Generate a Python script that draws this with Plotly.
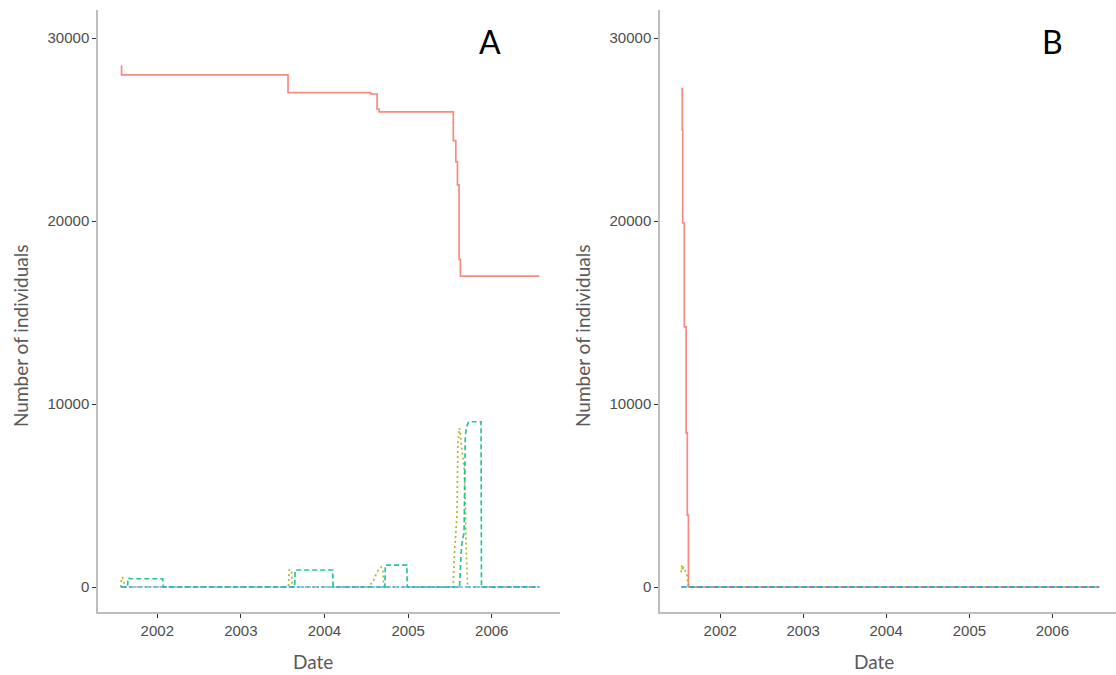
import plotly.graph_objects as go

# ---------------- data ----------------
# Panel A
a_start, a_end = "2001-07-26", "2006-07-28"

a_S_dates = ["2001-07-26", "2001-07-29", "2003-07-26", "2004-07-21", "2004-08-18",
             "2004-08-27", "2005-07-17", "2005-07-28", "2005-08-04", "2005-08-11",
             "2005-08-17", "2006-07-28"]
a_S_vals = [28470, 27980, 27010, 26940, 26120, 25960, 24390, 23240, 21970, 17900,
            16990, 16990]

a_E_dates = ["2001-07-26", "2001-07-28", "2001-08-02", "2001-08-08", "2001-08-12",
             "2003-07-28", "2003-07-31", "2003-08-10", "2003-08-14",
             "2004-07-15", "2004-07-20", "2004-07-30", "2004-08-10", "2004-08-22",
             "2004-09-05", "2004-09-12", "2004-09-16",
             "2005-07-16", "2005-07-21", "2005-07-28", "2005-08-02", "2005-08-06",
             "2005-08-13", "2005-08-24", "2005-09-03", "2005-09-08", "2005-09-12",
             "2005-09-18", "2006-07-28"]
a_E_vals = [0, 400, 540, 300, 0,
            0, 930, 930, 0,
            0, 150, 250, 600, 900, 1090, 1000, 0,
            0, 1640, 2950, 3930, 7870, 8690, 7490, 6390, 4200, 1640, 0, 0]

a_I_dates = ["2001-07-26", "2001-08-24", "2001-08-26", "2001-09-05", "2002-01-24",
             "2002-01-27", "2003-08-24", "2003-08-26", "2004-02-06", "2004-02-08",
             "2004-09-21", "2004-09-23", "2004-12-26", "2004-12-28",
             "2005-08-13", "2005-08-15", "2005-08-20", "2005-08-26", "2005-09-02",
             "2005-09-07", "2005-09-11", "2005-09-22", "2005-11-15", "2005-11-17",
             "2006-07-28"]
a_I_vals = [0, 0, 490, 450, 450,
            0, 0, 930, 930, 0,
            0, 1200, 1200, 0,
            0, 930, 1860, 2570, 2950, 8030, 8690, 9030, 9030, 0, 0]

# Panel B
b_start, b_end = "2001-07-13", "2006-07-26"

b_S_dates = ["2001-07-13", "2001-07-18", "2001-07-20", "2001-07-27", "2001-08-04",
             "2001-08-09", "2001-08-14", "2006-07-26"]
b_S_vals = [27230, 24970, 19890, 14210, 8420, 3930, 0, 0]

b_E_dates = ["2001-07-13", "2001-07-16", "2001-07-19", "2001-07-23", "2001-07-28",
             "2001-08-02", "2001-08-08", "2001-08-14", "2006-07-26"]
b_E_vals = [800, 1200, 900, 1100, 1000, 800, 600, 0, 0]

# tick labels
x_tickvals = ["2002-01-01", "2003-01-01", "2004-01-01", "2005-01-01", "2006-01-01"]
x_ticktext = ["2002", "2003", "2004", "2005", "2006"]
y_tickvals = [0, 10000, 20000, 30000]
y_ticktext = ["0", "10000", "20000", "30000"]

# ---------------- styling ----------------
RED, OLIVE, GREEN, BLUE, PURPLE = "#F8766D", "#A3A500", "#00BF7D", "#00B0F6", "#E76BF3"
LW = 1.7

fig = go.Figure()


def add_panel(xa, ya, s_d, s_v, e_d, e_v, i_d, i_v, start, end):
    fig.add_trace(go.Scatter(x=s_d, y=s_v, mode="lines", xaxis=xa, yaxis=ya,
                             line=dict(color=RED, width=LW, shape="hv"), opacity=0.85,
                             showlegend=False))
    fig.add_trace(go.Scatter(x=e_d, y=e_v, mode="lines", xaxis=xa, yaxis=ya,
                             line=dict(color=OLIVE, width=LW, dash="2px,3px"), opacity=0.8,
                             showlegend=False))
    fig.add_trace(go.Scatter(x=i_d, y=i_v, mode="lines", xaxis=xa, yaxis=ya,
                             line=dict(color=GREEN, width=LW, dash="5px,3px"), opacity=0.85,
                             showlegend=False))
    fig.add_trace(go.Scatter(x=[start, end], y=[0, 0], mode="lines", xaxis=xa, yaxis=ya,
                             line=dict(color=BLUE, width=LW, dash="6px,2px"), opacity=0.7,
                             showlegend=False))
    fig.add_trace(go.Scatter(x=[start, end], y=[0, 0], mode="lines", xaxis=xa, yaxis=ya,
                             line=dict(color=PURPLE, width=LW, dash="2px,6px"), opacity=0.5,
                             showlegend=False))


add_panel("x", "y", a_S_dates, a_S_vals, a_E_dates, a_E_vals, a_I_dates, a_I_vals,
          a_start, a_end)
add_panel("x2", "y2", b_S_dates, b_S_vals, b_E_dates, b_E_vals,
          [b_start, b_end], [0, 0], b_start, b_end)

W, H = 1116, 675
ydom = [(H - 612) / H, (H - 10) / H]
yrange = [-1366, 31530]

tickfont = dict(family="Liberation Sans, Arial, sans-serif", size=15, color="#4D4D4D")

common_x = dict(type="date", showgrid=False, zeroline=False, showline=True,
                linecolor="#BDBDBD", linewidth=1.5, ticks="outside", ticklen=4,
                tickcolor="#333333", tickwidth=1, tickvals=x_tickvals,
                ticktext=x_ticktext, tickfont=tickfont, automargin=False)
common_y = dict(showgrid=False, zeroline=False, showline=True,
                linecolor="#BDBDBD", linewidth=1.5, ticks="outside", ticklen=4,
                tickcolor="#333333", tickwidth=1, tickvals=y_tickvals,
                ticktext=y_ticktext, tickfont=tickfont, range=yrange, automargin=False)

fig.update_layout(
    width=W, height=H,
    margin=dict(l=0, r=0, t=0, b=0),
    paper_bgcolor="white", plot_bgcolor="white",
    xaxis=dict(common_x, domain=[98 / W, 560 / W], range=["2001-04-17", "2006-10-26"],
               anchor="y"),
    yaxis=dict(common_y, domain=ydom, anchor="x"),
    xaxis2=dict(common_x, domain=[660 / W, 1.0], range=["2001-04-11", "2006-10-08"],
                anchor="y2"),
    yaxis2=dict(common_y, domain=ydom, anchor="x2"),
)

title_font = dict(family="Lato, Open Sans, sans-serif", size=19, color="#595959")
annots = [
    dict(text="A", x=490 / W, y=(H - 42) / H, font=dict(family="Lato, sans-serif", size=32, color="black")),
    dict(text="B", x=1052 / W, y=(H - 42) / H, font=dict(family="Lato, sans-serif", size=32, color="black")),
    dict(text="Date", x=313 / W, y=(H - 661) / H, font=title_font),
    dict(text="Date", x=874 / W, y=(H - 661) / H, font=title_font),
    dict(text="Number of individuals", x=20 / W, y=(H - 336) / H, textangle=-90, font=title_font),
    dict(text="Number of individuals", x=582 / W, y=(H - 336) / H, textangle=-90, font=title_font),
]
for a in annots:
    fig.add_annotation(xref="paper", yref="paper", xanchor="center", yanchor="middle",
                       showarrow=False, **a)

fig.write_html("out.html")
